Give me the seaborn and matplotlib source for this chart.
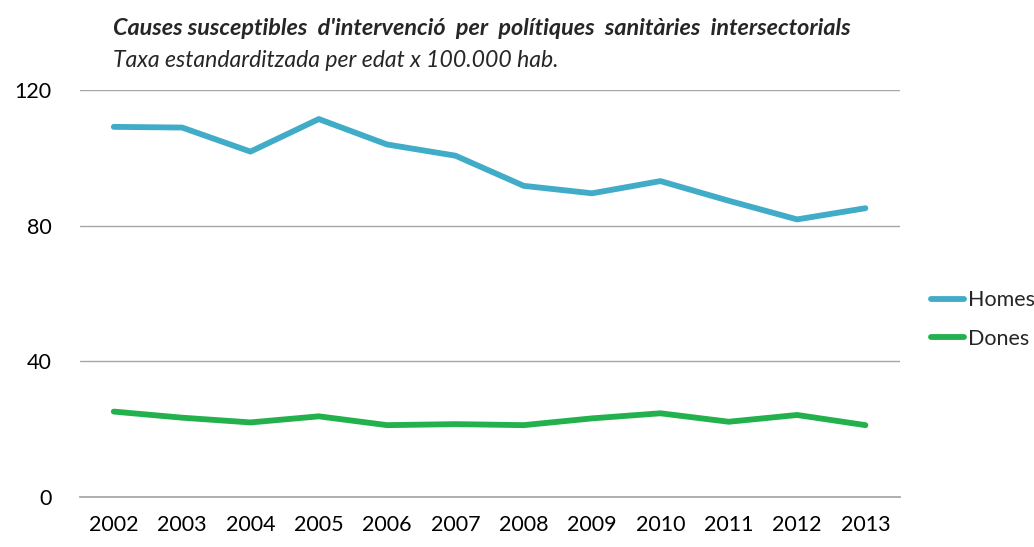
"""Causes susceptibles d'intervenció: line chart by sex, 2002-2013."""
import matplotlib

matplotlib.use("Agg")
import matplotlib.pyplot as plt
import pandas as pd
import seaborn as sns

YEARS = ["2002", "2003", "2004", "2005", "2006", "2007",
         "2008", "2009", "2010", "2011", "2012", "2013"]
HOMES = [109.2, 109.0, 101.9, 111.5, 104.0, 100.7, 91.8, 89.6, 93.2, 87.4, 81.9, 85.2]
DONES = [25.2, 23.4, 22.0, 23.8, 21.2, 21.5, 21.2, 23.2, 24.7, 22.2, 24.2, 21.2]
Y_TICKS = [0, 40, 80, 120]

BLUE, GREEN, GRID = "#41acc8", "#22b14c", "#a6a6a6"
LW = 4.2

sns.set_theme(style="white")
plt.rcParams["font.family"] = ["Lato", "DejaVu Sans"]

df = pd.DataFrame({
    "year": YEARS * 2,
    "rate": HOMES + DONES,
    "sex": ["Homes"] * len(YEARS) + ["Dones"] * len(YEARS),
})

fig = plt.figure(figsize=(10.34, 5.47), dpi=100)
ax = fig.add_axes([0.077, 0.0914, 0.793, 0.7436])

sns.lineplot(data=df, x="year", y="rate", hue="sex", ax=ax,
             palette={"Homes": BLUE, "Dones": GREEN}, linewidth=LW,
             solid_capstyle="round", legend=False)

ax.set_xlim(-0.5, len(YEARS) - 0.5)
ax.set_ylim(0, 120)
ax.set_yticks(Y_TICKS)
ax.yaxis.grid(True, color=GRID, lw=1)
ax.set_axisbelow(True)
for side in ("top", "right", "left"):
    ax.spines[side].set_visible(False)
ax.spines["bottom"].set_color(GRID)
ax.set_xlabel("")
ax.set_ylabel("")
ax.tick_params(axis="both", length=0, labelsize=15.5, colors="#000000")
ax.tick_params(axis="x", pad=13)
ax.tick_params(axis="y", pad=20)

# legend on the right, Excel style
handles = [plt.Line2D([], [], color=BLUE, lw=LW, solid_capstyle="round"),
           plt.Line2D([], [], color=GREEN, lw=LW, solid_capstyle="round")]
fig.legend(handles, ["Homes", "Dones"], loc="center left",
           bbox_to_anchor=(0.882, 0.416), frameon=False, fontsize=15.5,
           handlelength=1.5, handletextpad=0.2, labelspacing=0.85)

fig.text(0.109, 0.948, "Causes susceptibles  d'intervenció  per  polítiques  sanitàries  intersectorials",
         fontsize=16.8, fontweight="bold", fontstyle="italic", va="center")
fig.text(0.109, 0.89, "Taxa estandarditzada per edat x 100.000 hab.",
         fontsize=16.6, fontstyle="italic", va="center")

fig.savefig("out.png", dpi=100)
